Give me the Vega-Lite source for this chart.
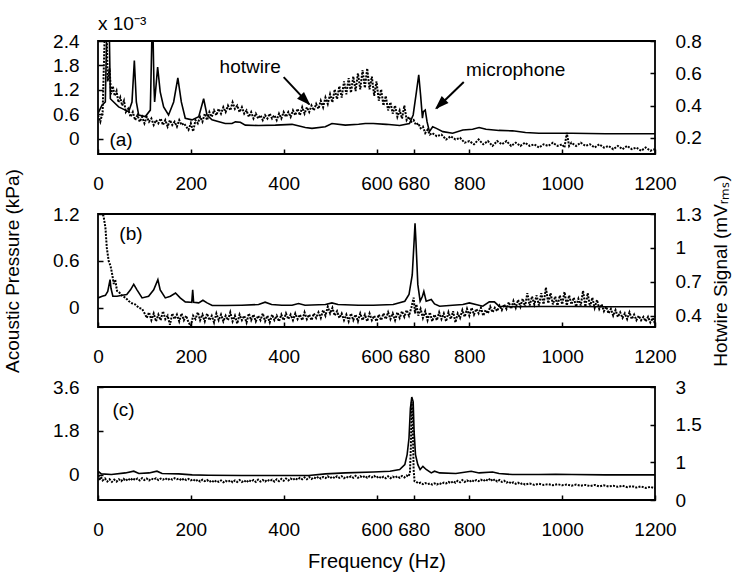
{
  "$schema": "https://vega.github.io/schema/vega-lite/v6.json",
  "padding": {"left": 2, "top": 14, "right": 1, "bottom": 1},
  "background": "white",
  "bounds": "flush",
  "spacing": 60,
  "datasets": {
    "a_mic": [
      {"f":0,"v":0.62},{"f":8.6,"v":0.82},{"f":15.8,"v":0.9},{"f":18.7,"v":2.6},{"f":21.5,"v":3.0},{"f":24.4,"v":2.6},{"f":26.6,"v":0.98},{"f":33.7,"v":0.9},{"f":44.5,"v":0.78},{"f":58.9,"v":0.7},{"f":66,"v":0.66},{"f":73.2,"v":0.9},{"f":78.3,"v":1.92},{"f":82.6,"v":0.9},{"f":87.6,"v":0.58},{"f":102,"v":0.54},{"f":112.7,"v":0.7},{"f":116.3,"v":2.6},{"f":117.8,"v":3.0},{"f":120.6,"v":1.3},{"f":122,"v":0.9},{"f":128.5,"v":1.76},{"f":134,"v":1.15},{"f":141.4,"v":0.78},{"f":152,"v":0.58},{"f":163,"v":0.9},{"f":172,"v":1.49},{"f":179.5,"v":0.9},{"f":188,"v":0.5},{"f":202.5,"v":0.46},{"f":217,"v":0.54},{"f":227.6,"v":0.98},{"f":234.8,"v":0.58},{"f":245.6,"v":0.46},{"f":274,"v":0.37},{"f":288.6,"v":0.37},{"f":296,"v":0.41},{"f":306.6,"v":0.4},{"f":317.4,"v":0.33},{"f":346,"v":0.32},{"f":382,"v":0.33},{"f":418,"v":0.35},{"f":446.6,"v":0.27},{"f":461,"v":0.25},{"f":489.7,"v":0.29},{"f":504,"v":0.37},{"f":532.8,"v":0.33},{"f":561.5,"v":0.35},{"f":575.8,"v":0.37},{"f":593,"v":0.37},{"f":621,"v":0.35},{"f":650,"v":0.32},{"f":671,"v":0.37},{"f":679,"v":0.58},{"f":686,"v":1.15},{"f":691,"v":1.57},{"f":695,"v":1.07},{"f":699,"v":0.5},{"f":701,"v":0.66},{"f":705,"v":0.7},{"f":709,"v":0.41},{"f":714,"v":0.17},{"f":721,"v":0.29},{"f":729,"v":0.25},{"f":743,"v":0.17},{"f":764,"v":0.13},{"f":786,"v":0.21},{"f":807,"v":0.23},{"f":821,"v":0.27},{"f":836,"v":0.23},{"f":864,"v":0.2},{"f":893,"v":0.19},{"f":921,"v":0.15},{"f":950,"v":0.13},{"f":1021,"v":0.13},{"f":1093,"v":0.12},{"f":1164,"v":0.12},{"f":1200,"v":0.12}
    ],
    "a_hw": [
      {"f":0,"v":0.34},{"f":5,"v":0.3},{"f":10,"v":0.36},{"f":15,"v":0.9},{"f":18,"v":0.95},{"f":21,"v":0.55},{"f":25,"v":0.63},{"f":28,"v":0.47},{"f":32,"v":0.52},{"f":36,"v":0.46},{"f":40,"v":0.49},{"f":44,"v":0.42},{"f":48,"v":0.45},{"f":52,"v":0.4},{"f":56,"v":0.43},{"f":60,"v":0.36},{"f":65,"v":0.38},{"f":70,"v":0.33},{"f":75,"v":0.36},{"f":80,"v":0.31},{"f":85,"v":0.34},{"f":90,"v":0.3},{"f":95,"v":0.33},{"f":100,"v":0.29},{"f":105,"v":0.33},{"f":110,"v":0.3},{"f":115,"v":0.32},{"f":120,"v":0.28},{"f":125,"v":0.31},{"f":130,"v":0.29},{"f":135,"v":0.32},{"f":140,"v":0.28},{"f":145,"v":0.31},{"f":150,"v":0.27},{"f":155,"v":0.31},{"f":160,"v":0.28},{"f":165,"v":0.3},{"f":170,"v":0.27},{"f":175,"v":0.31},{"f":180,"v":0.28},{"f":185,"v":0.29},{"f":190,"v":0.27},{"f":195,"v":0.25},{"f":200,"v":0.29},{"f":205,"v":0.24},{"f":210,"v":0.31},{"f":215,"v":0.29},{"f":220,"v":0.33},{"f":225,"v":0.3},{"f":230,"v":0.35},{"f":235,"v":0.31},{"f":240,"v":0.36},{"f":245,"v":0.33},{"f":250,"v":0.37},{"f":255,"v":0.34},{"f":260,"v":0.38},{"f":265,"v":0.35},{"f":270,"v":0.39},{"f":275,"v":0.36},{"f":280,"v":0.4},{"f":285,"v":0.37},{"f":290,"v":0.42},{"f":295,"v":0.38},{"f":300,"v":0.4},{"f":305,"v":0.36},{"f":310,"v":0.39},{"f":315,"v":0.35},{"f":320,"v":0.37},{"f":325,"v":0.33},{"f":330,"v":0.36},{"f":335,"v":0.32},{"f":340,"v":0.35},{"f":345,"v":0.32},{"f":350,"v":0.34},{"f":355,"v":0.31},{"f":360,"v":0.34},{"f":365,"v":0.32},{"f":370,"v":0.35},{"f":375,"v":0.32},{"f":380,"v":0.34},{"f":385,"v":0.31},{"f":390,"v":0.35},{"f":395,"v":0.32},{"f":400,"v":0.36},{"f":405,"v":0.33},{"f":410,"v":0.36},{"f":415,"v":0.33},{"f":420,"v":0.37},{"f":425,"v":0.34},{"f":430,"v":0.38},{"f":435,"v":0.34},{"f":440,"v":0.39},{"f":445,"v":0.35},{"f":450,"v":0.39},{"f":455,"v":0.36},{"f":460,"v":0.4},{"f":465,"v":0.37},{"f":470,"v":0.41},{"f":475,"v":0.38},{"f":480,"v":0.43},{"f":485,"v":0.39},{"f":490,"v":0.45},{"f":495,"v":0.41},{"f":500,"v":0.47},{"f":505,"v":0.42},{"f":510,"v":0.5},{"f":515,"v":0.44},{"f":520,"v":0.52},{"f":525,"v":0.45},{"f":530,"v":0.55},{"f":535,"v":0.47},{"f":540,"v":0.57},{"f":545,"v":0.48},{"f":550,"v":0.58},{"f":555,"v":0.49},{"f":560,"v":0.6},{"f":565,"v":0.5},{"f":570,"v":0.62},{"f":575,"v":0.51},{"f":580,"v":0.63},{"f":585,"v":0.5},{"f":590,"v":0.58},{"f":595,"v":0.46},{"f":600,"v":0.55},{"f":605,"v":0.43},{"f":610,"v":0.5},{"f":615,"v":0.4},{"f":620,"v":0.46},{"f":625,"v":0.37},{"f":630,"v":0.42},{"f":635,"v":0.35},{"f":640,"v":0.4},{"f":645,"v":0.33},{"f":650,"v":0.37},{"f":655,"v":0.32},{"f":660,"v":0.4},{"f":665,"v":0.31},{"f":670,"v":0.33},{"f":675,"v":0.3},{"f":680,"v":0.31},{"f":685,"v":0.28},{"f":690,"v":0.29},{"f":695,"v":0.26},{"f":700,"v":0.27},{"f":705,"v":0.23},{"f":710,"v":0.25},{"f":715,"v":0.22},{"f":720,"v":0.23},{"f":730,"v":0.21},{"f":740,"v":0.22},{"f":750,"v":0.19},{"f":760,"v":0.21},{"f":770,"v":0.19},{"f":780,"v":0.2},{"f":790,"v":0.17},{"f":800,"v":0.18},{"f":810,"v":0.16},{"f":820,"v":0.19},{"f":830,"v":0.16},{"f":840,"v":0.18},{"f":850,"v":0.15},{"f":860,"v":0.18},{"f":870,"v":0.16},{"f":880,"v":0.18},{"f":890,"v":0.15},{"f":900,"v":0.17},{"f":910,"v":0.15},{"f":920,"v":0.17},{"f":930,"v":0.15},{"f":940,"v":0.16},{"f":950,"v":0.14},{"f":960,"v":0.16},{"f":970,"v":0.15},{"f":980,"v":0.17},{"f":990,"v":0.15},{"f":1000,"v":0.16},{"f":1005,"v":0.14},{"f":1010,"v":0.23},{"f":1015,"v":0.15},{"f":1020,"v":0.17},{"f":1030,"v":0.15},{"f":1040,"v":0.17},{"f":1050,"v":0.15},{"f":1060,"v":0.16},{"f":1070,"v":0.14},{"f":1080,"v":0.16},{"f":1090,"v":0.14},{"f":1100,"v":0.15},{"f":1110,"v":0.13},{"f":1120,"v":0.15},{"f":1130,"v":0.13},{"f":1140,"v":0.15},{"f":1150,"v":0.13},{"f":1160,"v":0.14},{"f":1170,"v":0.12},{"f":1180,"v":0.14},{"f":1190,"v":0.12},{"f":1200,"v":0.13}
    ],
    "b_mic": [
      {"f":0,"v":0.127},{"f":9,"v":0.148},{"f":16,"v":0.16},{"f":21,"v":0.21},{"f":24,"v":0.3},{"f":26,"v":0.36},{"f":28,"v":0.25},{"f":32,"v":0.148},{"f":41,"v":0.148},{"f":52,"v":0.16},{"f":62,"v":0.17},{"f":70,"v":0.23},{"f":77,"v":0.3},{"f":84,"v":0.23},{"f":95,"v":0.127},{"f":109,"v":0.148},{"f":120,"v":0.23},{"f":129,"v":0.36},{"f":134,"v":0.23},{"f":145,"v":0.127},{"f":156,"v":0.148},{"f":167,"v":0.19},{"f":177,"v":0.127},{"f":188,"v":0.076},{"f":199,"v":0.072},{"f":202,"v":0.07},{"f":204,"v":0.23},{"f":206,"v":0.072},{"f":217,"v":0.063},{"f":226,"v":0.097},{"f":235,"v":0.063},{"f":246,"v":0.03},{"f":274,"v":0.03},{"f":310,"v":0.034},{"f":346,"v":0.042},{"f":360,"v":0.072},{"f":374,"v":0.042},{"f":396,"v":0.034},{"f":418,"v":0.034},{"f":432,"v":0.055},{"f":446,"v":0.034},{"f":490,"v":0.042},{"f":504,"v":0.063},{"f":517,"v":0.042},{"f":561,"v":0.034},{"f":593,"v":0.034},{"f":636,"v":0.042},{"f":661,"v":0.085},{"f":670,"v":0.17},{"f":677,"v":0.42},{"f":681,"v":0.85},{"f":683,"v":1.08},{"f":685,"v":0.85},{"f":689,"v":0.3},{"f":694,"v":0.085},{"f":699,"v":0.148},{"f":702,"v":0.21},{"f":707,"v":0.085},{"f":718,"v":0.106},{"f":725,"v":0.05},{"f":736,"v":0.021},{"f":764,"v":0.034},{"f":786,"v":0.042},{"f":800,"v":0.063},{"f":814,"v":0.042},{"f":829,"v":0.021},{"f":843,"v":0.076},{"f":854,"v":0.076},{"f":864,"v":0.021},{"f":893,"v":0.013},{"f":950,"v":0.017},{"f":1021,"v":0.017},{"f":1093,"v":0.013},{"f":1200,"v":0.013}
    ],
    "b_hw": [
      {"f":5,"v":1.35},{"f":10,"v":1.3},{"f":12,"v":1.28},{"f":16,"v":1.18},{"f":19,"v":1.0},{"f":23,"v":0.885},{"f":27,"v":0.84},{"f":30,"v":0.78},{"f":34,"v":0.68},{"f":37,"v":0.72},{"f":41,"v":0.62},{"f":45,"v":0.61},{"f":52,"v":0.576},{"f":59,"v":0.56},{"f":66,"v":0.53},{"f":73,"v":0.51},{"f":80,"v":0.5},{"f":88,"v":0.47},{"f":95,"v":0.46},{"f":102,"v":0.41},{"f":105,"v":0.38},{"f":110,"v":0.43},{"f":115,"v":0.36},{"f":120,"v":0.42},{"f":125,"v":0.35},{"f":130,"v":0.41},{"f":135,"v":0.36},{"f":140,"v":0.44},{"f":145,"v":0.37},{"f":150,"v":0.4},{"f":155,"v":0.32},{"f":160,"v":0.42},{"f":165,"v":0.37},{"f":170,"v":0.41},{"f":175,"v":0.35},{"f":180,"v":0.42},{"f":185,"v":0.36},{"f":190,"v":0.4},{"f":195,"v":0.34},{"f":200,"v":0.31},{"f":205,"v":0.4},{"f":210,"v":0.37},{"f":215,"v":0.43},{"f":220,"v":0.36},{"f":225,"v":0.41},{"f":230,"v":0.35},{"f":235,"v":0.42},{"f":240,"v":0.36},{"f":245,"v":0.4},{"f":250,"v":0.34},{"f":255,"v":0.42},{"f":260,"v":0.36},{"f":265,"v":0.41},{"f":270,"v":0.35},{"f":275,"v":0.4},{"f":280,"v":0.36},{"f":285,"v":0.43},{"f":290,"v":0.35},{"f":295,"v":0.4},{"f":300,"v":0.33},{"f":305,"v":0.41},{"f":310,"v":0.36},{"f":315,"v":0.4},{"f":320,"v":0.34},{"f":325,"v":0.42},{"f":330,"v":0.36},{"f":335,"v":0.41},{"f":340,"v":0.35},{"f":345,"v":0.4},{"f":350,"v":0.36},{"f":355,"v":0.42},{"f":360,"v":0.35},{"f":365,"v":0.4},{"f":370,"v":0.34},{"f":375,"v":0.41},{"f":380,"v":0.36},{"f":385,"v":0.4},{"f":390,"v":0.35},{"f":395,"v":0.41},{"f":400,"v":0.36},{"f":405,"v":0.42},{"f":410,"v":0.37},{"f":415,"v":0.41},{"f":420,"v":0.36},{"f":425,"v":0.42},{"f":430,"v":0.37},{"f":435,"v":0.41},{"f":440,"v":0.36},{"f":445,"v":0.43},{"f":450,"v":0.37},{"f":455,"v":0.41},{"f":460,"v":0.36},{"f":465,"v":0.42},{"f":470,"v":0.38},{"f":475,"v":0.43},{"f":480,"v":0.38},{"f":485,"v":0.45},{"f":490,"v":0.4},{"f":495,"v":0.48},{"f":500,"v":0.42},{"f":505,"v":0.47},{"f":510,"v":0.4},{"f":515,"v":0.44},{"f":520,"v":0.38},{"f":525,"v":0.42},{"f":530,"v":0.36},{"f":535,"v":0.41},{"f":540,"v":0.35},{"f":545,"v":0.42},{"f":550,"v":0.36},{"f":555,"v":0.41},{"f":560,"v":0.35},{"f":565,"v":0.42},{"f":570,"v":0.36},{"f":575,"v":0.41},{"f":580,"v":0.35},{"f":585,"v":0.42},{"f":590,"v":0.36},{"f":595,"v":0.4},{"f":600,"v":0.35},{"f":605,"v":0.41},{"f":610,"v":0.36},{"f":615,"v":0.42},{"f":620,"v":0.37},{"f":625,"v":0.43},{"f":630,"v":0.37},{"f":635,"v":0.42},{"f":640,"v":0.36},{"f":645,"v":0.43},{"f":650,"v":0.38},{"f":655,"v":0.44},{"f":660,"v":0.39},{"f":665,"v":0.45},{"f":670,"v":0.4},{"f":675,"v":0.47},{"f":680,"v":0.56},{"f":683,"v":0.42},{"f":686,"v":0.5},{"f":690,"v":0.4},{"f":695,"v":0.46},{"f":700,"v":0.38},{"f":705,"v":0.44},{"f":710,"v":0.36},{"f":715,"v":0.43},{"f":720,"v":0.35},{"f":725,"v":0.41},{"f":730,"v":0.36},{"f":735,"v":0.43},{"f":740,"v":0.37},{"f":745,"v":0.42},{"f":750,"v":0.35},{"f":755,"v":0.43},{"f":760,"v":0.37},{"f":765,"v":0.44},{"f":770,"v":0.34},{"f":775,"v":0.42},{"f":780,"v":0.38},{"f":785,"v":0.45},{"f":790,"v":0.39},{"f":795,"v":0.46},{"f":800,"v":0.4},{"f":805,"v":0.47},{"f":810,"v":0.41},{"f":815,"v":0.46},{"f":820,"v":0.42},{"f":825,"v":0.47},{"f":830,"v":0.4},{"f":835,"v":0.45},{"f":840,"v":0.42},{"f":845,"v":0.48},{"f":850,"v":0.43},{"f":855,"v":0.47},{"f":860,"v":0.44},{"f":865,"v":0.49},{"f":870,"v":0.45},{"f":875,"v":0.5},{"f":880,"v":0.46},{"f":885,"v":0.52},{"f":890,"v":0.46},{"f":895,"v":0.53},{"f":900,"v":0.47},{"f":905,"v":0.54},{"f":910,"v":0.48},{"f":915,"v":0.55},{"f":920,"v":0.48},{"f":925,"v":0.6},{"f":930,"v":0.49},{"f":935,"v":0.57},{"f":940,"v":0.5},{"f":945,"v":0.58},{"f":950,"v":0.49},{"f":955,"v":0.6},{"f":960,"v":0.5},{"f":965,"v":0.65},{"f":970,"v":0.51},{"f":975,"v":0.6},{"f":980,"v":0.5},{"f":985,"v":0.57},{"f":990,"v":0.49},{"f":995,"v":0.58},{"f":1000,"v":0.5},{"f":1005,"v":0.61},{"f":1010,"v":0.49},{"f":1015,"v":0.58},{"f":1020,"v":0.5},{"f":1025,"v":0.56},{"f":1030,"v":0.48},{"f":1035,"v":0.55},{"f":1040,"v":0.49},{"f":1045,"v":0.62},{"f":1050,"v":0.48},{"f":1055,"v":0.6},{"f":1060,"v":0.48},{"f":1065,"v":0.56},{"f":1070,"v":0.47},{"f":1075,"v":0.54},{"f":1080,"v":0.46},{"f":1085,"v":0.5},{"f":1090,"v":0.44},{"f":1095,"v":0.48},{"f":1100,"v":0.42},{"f":1105,"v":0.46},{"f":1110,"v":0.4},{"f":1115,"v":0.45},{"f":1120,"v":0.39},{"f":1125,"v":0.43},{"f":1130,"v":0.38},{"f":1135,"v":0.42},{"f":1140,"v":0.37},{"f":1145,"v":0.43},{"f":1150,"v":0.37},{"f":1155,"v":0.41},{"f":1160,"v":0.36},{"f":1165,"v":0.4},{"f":1170,"v":0.36},{"f":1175,"v":0.39},{"f":1180,"v":0.35},{"f":1185,"v":0.39},{"f":1190,"v":0.34},{"f":1195,"v":0.38},{"f":1200,"v":0.33}
    ],
    "c_mic": [
      {"f":0,"v":0.15},{"f":7,"v":0.04},{"f":29,"v":0.014},{"f":59,"v":0.08},{"f":77,"v":0.15},{"f":88,"v":0.054},{"f":110,"v":0.08},{"f":127,"v":0.15},{"f":138,"v":0.054},{"f":174,"v":0.04},{"f":203,"v":0},{"f":238,"v":-0.014},{"f":310,"v":-0.027},{"f":382,"v":-0.027},{"f":454,"v":-0.027},{"f":490,"v":0.04},{"f":533,"v":0.08},{"f":593,"v":0.12},{"f":629,"v":0.15},{"f":650,"v":0.22},{"f":661,"v":0.42},{"f":666,"v":0.83},{"f":670,"v":1.5},{"f":673,"v":2.72},{"f":676,"v":3.19},{"f":679,"v":2.99},{"f":681,"v":1.77},{"f":684,"v":0.83},{"f":689,"v":0.42},{"f":694,"v":0.22},{"f":700,"v":0.35},{"f":707,"v":0.22},{"f":718,"v":0.08},{"f":725,"v":0.15},{"f":736,"v":0.08},{"f":771,"v":0.054},{"f":804,"v":0.15},{"f":821,"v":0.08},{"f":850,"v":0.12},{"f":864,"v":0.054},{"f":893,"v":0.014},{"f":950,"v":0.014},{"f":986,"v":0.027},{"f":1021,"v":0.014},{"f":1093,"v":0},{"f":1200,"v":0}
    ],
    "c_hw": [
      {"f":0,"v":0.75},{"f":3,"v":0.52},{"f":6,"v":0.62},{"f":10,"v":0.52},{"f":15,"v":0.57},{"f":20,"v":0.49},{"f":25,"v":0.55},{"f":30,"v":0.48},{"f":35,"v":0.54},{"f":40,"v":0.49},{"f":45,"v":0.55},{"f":50,"v":0.5},{"f":55,"v":0.56},{"f":60,"v":0.51},{"f":65,"v":0.57},{"f":70,"v":0.52},{"f":75,"v":0.58},{"f":80,"v":0.53},{"f":85,"v":0.57},{"f":90,"v":0.52},{"f":95,"v":0.58},{"f":100,"v":0.53},{"f":105,"v":0.57},{"f":110,"v":0.52},{"f":115,"v":0.57},{"f":120,"v":0.54},{"f":125,"v":0.58},{"f":130,"v":0.53},{"f":135,"v":0.57},{"f":140,"v":0.54},{"f":145,"v":0.58},{"f":150,"v":0.53},{"f":155,"v":0.57},{"f":160,"v":0.54},{"f":165,"v":0.58},{"f":170,"v":0.55},{"f":175,"v":0.57},{"f":180,"v":0.52},{"f":185,"v":0.57},{"f":190,"v":0.53},{"f":195,"v":0.56},{"f":200,"v":0.52},{"f":205,"v":0.55},{"f":210,"v":0.5},{"f":215,"v":0.54},{"f":220,"v":0.49},{"f":225,"v":0.54},{"f":230,"v":0.5},{"f":235,"v":0.53},{"f":240,"v":0.48},{"f":245,"v":0.52},{"f":250,"v":0.47},{"f":255,"v":0.52},{"f":260,"v":0.48},{"f":265,"v":0.52},{"f":270,"v":0.47},{"f":275,"v":0.51},{"f":280,"v":0.48},{"f":285,"v":0.52},{"f":290,"v":0.47},{"f":295,"v":0.52},{"f":300,"v":0.48},{"f":305,"v":0.53},{"f":310,"v":0.48},{"f":315,"v":0.52},{"f":320,"v":0.47},{"f":325,"v":0.53},{"f":330,"v":0.49},{"f":335,"v":0.53},{"f":340,"v":0.48},{"f":345,"v":0.54},{"f":350,"v":0.49},{"f":355,"v":0.53},{"f":360,"v":0.49},{"f":365,"v":0.54},{"f":370,"v":0.5},{"f":375,"v":0.54},{"f":380,"v":0.49},{"f":385,"v":0.55},{"f":390,"v":0.5},{"f":395,"v":0.56},{"f":400,"v":0.51},{"f":405,"v":0.57},{"f":410,"v":0.52},{"f":415,"v":0.57},{"f":420,"v":0.53},{"f":425,"v":0.58},{"f":430,"v":0.54},{"f":435,"v":0.59},{"f":440,"v":0.55},{"f":445,"v":0.6},{"f":450,"v":0.55},{"f":455,"v":0.61},{"f":460,"v":0.56},{"f":465,"v":0.6},{"f":470,"v":0.57},{"f":475,"v":0.62},{"f":480,"v":0.57},{"f":485,"v":0.61},{"f":490,"v":0.58},{"f":495,"v":0.63},{"f":500,"v":0.58},{"f":505,"v":0.62},{"f":510,"v":0.58},{"f":515,"v":0.63},{"f":520,"v":0.59},{"f":525,"v":0.63},{"f":530,"v":0.58},{"f":535,"v":0.62},{"f":540,"v":0.59},{"f":545,"v":0.63},{"f":550,"v":0.59},{"f":555,"v":0.64},{"f":560,"v":0.59},{"f":565,"v":0.63},{"f":570,"v":0.6},{"f":575,"v":0.64},{"f":580,"v":0.59},{"f":585,"v":0.63},{"f":590,"v":0.6},{"f":595,"v":0.64},{"f":600,"v":0.59},{"f":605,"v":0.63},{"f":610,"v":0.58},{"f":615,"v":0.62},{"f":620,"v":0.58},{"f":625,"v":0.63},{"f":630,"v":0.58},{"f":635,"v":0.62},{"f":640,"v":0.59},{"f":645,"v":0.63},{"f":650,"v":0.59},{"f":655,"v":0.64},{"f":660,"v":0.6},{"f":665,"v":0.65},{"f":668,"v":0.62},{"f":672,"v":0.7},{"f":674,"v":1.2},{"f":676,"v":2.4},{"f":678,"v":1.6},{"f":680,"v":0.8},{"f":682,"v":0.5},{"f":685,"v":0.49},{"f":690,"v":0.44},{"f":695,"v":0.46},{"f":700,"v":0.42},{"f":705,"v":0.45},{"f":710,"v":0.42},{"f":715,"v":0.44},{"f":720,"v":0.41},{"f":725,"v":0.44},{"f":730,"v":0.41},{"f":735,"v":0.45},{"f":740,"v":0.42},{"f":745,"v":0.46},{"f":750,"v":0.44},{"f":755,"v":0.48},{"f":760,"v":0.45},{"f":765,"v":0.5},{"f":770,"v":0.46},{"f":775,"v":0.51},{"f":780,"v":0.47},{"f":785,"v":0.53},{"f":790,"v":0.48},{"f":795,"v":0.52},{"f":800,"v":0.48},{"f":805,"v":0.53},{"f":810,"v":0.49},{"f":815,"v":0.53},{"f":820,"v":0.5},{"f":825,"v":0.54},{"f":830,"v":0.5},{"f":835,"v":0.55},{"f":840,"v":0.51},{"f":845,"v":0.57},{"f":850,"v":0.5},{"f":855,"v":0.55},{"f":860,"v":0.49},{"f":865,"v":0.53},{"f":870,"v":0.48},{"f":875,"v":0.51},{"f":880,"v":0.46},{"f":885,"v":0.49},{"f":890,"v":0.44},{"f":895,"v":0.47},{"f":900,"v":0.43},{"f":905,"v":0.46},{"f":910,"v":0.42},{"f":915,"v":0.45},{"f":920,"v":0.41},{"f":930,"v":0.44},{"f":940,"v":0.4},{"f":950,"v":0.43},{"f":960,"v":0.4},{"f":970,"v":0.42},{"f":980,"v":0.39},{"f":990,"v":0.42},{"f":1000,"v":0.39},{"f":1010,"v":0.41},{"f":1020,"v":0.38},{"f":1030,"v":0.41},{"f":1040,"v":0.38},{"f":1050,"v":0.4},{"f":1060,"v":0.37},{"f":1070,"v":0.4},{"f":1080,"v":0.36},{"f":1090,"v":0.39},{"f":1100,"v":0.36},{"f":1110,"v":0.38},{"f":1120,"v":0.35},{"f":1130,"v":0.38},{"f":1140,"v":0.34},{"f":1150,"v":0.37},{"f":1160,"v":0.33},{"f":1170,"v":0.36},{"f":1180,"v":0.32},{"f":1190,"v":0.35},{"f":1200,"v":0.31}
    ]
  },
  "vconcat": [
    {
      "width": 557, "height": 113,
      "title": {"text": "x 10⁻³", "anchor": "start", "frame": "group", "fontSize": 19, "fontWeight": "normal", "font": "Liberation Sans", "offset": -2, "color": "black"},
      "encoding": {
        "x": {"field": "f", "type": "quantitative", "scale": {"domain": [0, 1200], "nice": false}, "axis": {"values": [0,200,400,600,680,800,1000,1200], "labelExpr": "'' + datum.value", "title": null}}
      },
      "layer": [
        {
          "encoding": {
            "y": {"field": "v", "type": "quantitative", "scale": {"domain": [-0.38, 2.4], "nice": false, "zero": false}, "axis": {"orient": "left", "values": [0,0.6,1.2,1.8,2.4], "labelExpr": "'' + datum.value", "title": null}}
          },
          "layer": [
            {"data": {"name": "a_mic"}, "mark": {"type": "line", "color": "black", "strokeWidth": 1.6, "clip": true}},
            {"data": {"values": [{"f": 49.6, "v": -0.03, "label": "(a)"}, {"f": 328, "v": 1.77, "label": "hotwire"}, {"f": 900, "v": 1.68, "label": "microphone"}]},
             "mark": {"type": "text", "align": "center", "baseline": "middle", "fontSize": 19, "font": "Liberation Sans", "color": "black"},
             "encoding": {"text": {"field": "label"}}},
            {"data": {"values": [{"f": 400, "v": 1.51, "f2": 455, "v2": 0.84}, {"f": 788, "v": 1.39, "f2": 729, "v2": 0.74}]},
             "mark": {"type": "rule", "color": "black", "strokeWidth": 2},
             "encoding": {"x2": {"field": "f2"}, "y2": {"field": "v2"}}},
            {"data": {"values": [{"f": 447, "v": 0.94}]},
             "mark": {"type": "point", "shape": "M0,-1L0.7,1L-0.7,1Z", "filled": true, "color": "black", "opacity": 1, "size": 196, "angle": 135}},
            {"data": {"values": [{"f": 737, "v": 0.84}]},
             "mark": {"type": "point", "shape": "M0,-1L0.7,1L-0.7,1Z", "filled": true, "color": "black", "opacity": 1, "size": 196, "angle": 226}}
          ]
        },
        {"data": {"name": "a_hw"}, "mark": {"type": "line", "color": "black", "strokeWidth": 2, "strokeDash": [2, 1.3], "clip": true},
         "encoding": {
           "y": {"field": "v", "type": "quantitative", "scale": {"domain": [0.1, 0.8], "nice": false, "zero": false}, "axis": {"orient": "right", "values": [0.2,0.4,0.6,0.8], "labelExpr": "'' + datum.value", "title": null}}
         }}
      ],
      "resolve": {"scale": {"y": "independent"}}
    },
    {
      "width": 557, "height": 113,
      "encoding": {
        "x": {"field": "f", "type": "quantitative", "scale": {"domain": [0, 1200], "nice": false}, "axis": {"values": [0,200,400,600,680,800,1000,1200], "labelExpr": "'' + datum.value", "title": null}}
      },
      "layer": [
        {
          "encoding": {
            "y": {"field": "v", "type": "quantitative", "scale": {"domain": [-0.245, 1.2], "nice": false, "zero": false}, "axis": {"orient": "left", "values": [0,0.6,1.2], "labelExpr": "'' + datum.value", "title": "Acoustic Pressure (kPa)", "titlePadding": 30}}
          },
          "layer": [
            {"data": {"name": "b_mic"}, "mark": {"type": "line", "color": "black", "strokeWidth": 1.6, "clip": true}},
            {"data": {"values": [{"f": 71, "v": 0.94, "label": "(b)"}]},
             "mark": {"type": "text", "align": "center", "baseline": "middle", "fontSize": 19, "font": "Liberation Sans", "color": "black"},
             "encoding": {"text": {"field": "label"}}}
          ]
        },
        {"data": {"name": "b_hw"}, "mark": {"type": "line", "color": "black", "strokeWidth": 2, "strokeDash": [2, 1.3], "clip": true},
         "encoding": {
           "y": {"field": "v", "type": "quantitative", "scale": {"domain": [0.3, 1.3], "nice": false, "zero": false}, "axis": {"orient": "right", "values": [0.4,0.7,1,1.3], "labelExpr": "'' + datum.value", "title": "Hotwire Signal (mVᵣₘₛ)", "titleAngle": -90, "titlePadding": 29}}
         }}
      ],
      "resolve": {"scale": {"y": "independent"}}
    },
    {
      "width": 557, "height": 113,
      "encoding": {
        "x": {"field": "f", "type": "quantitative", "scale": {"domain": [0, 1200], "nice": false}, "axis": {"values": [0,200,400,600,680,800,1000,1200], "labelExpr": "'' + datum.value", "title": "Frequency (Hz)", "titlePadding": 12, "titleFontSize": 20}}
      },
      "layer": [
        {
          "encoding": {
            "y": {"field": "v", "type": "quantitative", "scale": {"domain": [-1.03, 3.6], "nice": false, "zero": false}, "axis": {"orient": "left", "values": [0,1.8,3.6], "labelExpr": "'' + datum.value", "title": null}}
          },
          "layer": [
            {"data": {"name": "c_mic"}, "mark": {"type": "line", "color": "black", "strokeWidth": 1.6, "clip": true}},
            {"data": {"values": [{"f": 55, "v": 2.67, "label": "(c)"}]},
             "mark": {"type": "text", "align": "center", "baseline": "middle", "fontSize": 19, "font": "Liberation Sans", "color": "black"},
             "encoding": {"text": {"field": "label"}}}
          ]
        },
        {"data": {"name": "c_hw"}, "mark": {"type": "line", "color": "black", "strokeWidth": 2, "strokeDash": [2, 1.3], "clip": true},
         "encoding": {
           "y": {"field": "v", "type": "quantitative", "scale": {"domain": [0, 1, 1.5, 3], "range": [113, 75.33, 37.67, 0], "nice": false, "zero": false}, "axis": {"orient": "right", "values": [0,1,1.5,3], "labelExpr": "'' + datum.value", "title": null}}
         }}
      ],
      "resolve": {"scale": {"y": "independent"}}
    }
  ],
  "config": {
    "font": "Liberation Sans",
    "view": {"stroke": "black", "strokeWidth": 1.8},
    "axis": {"domain": false, "grid": false, "ticks": true, "tickSize": -5, "tickColor": "black", "tickWidth": 1.5, "labelFont": "Liberation Sans", "labelFontSize": 19, "labelColor": "black", "labelPadding": 24, "labelOverlap": false, "labelFlush": false, "labelBound": false, "titleFont": "Liberation Sans", "titleFontSize": 19, "titleFontWeight": "normal", "titleColor": "black"},
    "axisX": {"labelPadding": 25},
    "axisRight": {"labelPadding": 25}
  }
}
